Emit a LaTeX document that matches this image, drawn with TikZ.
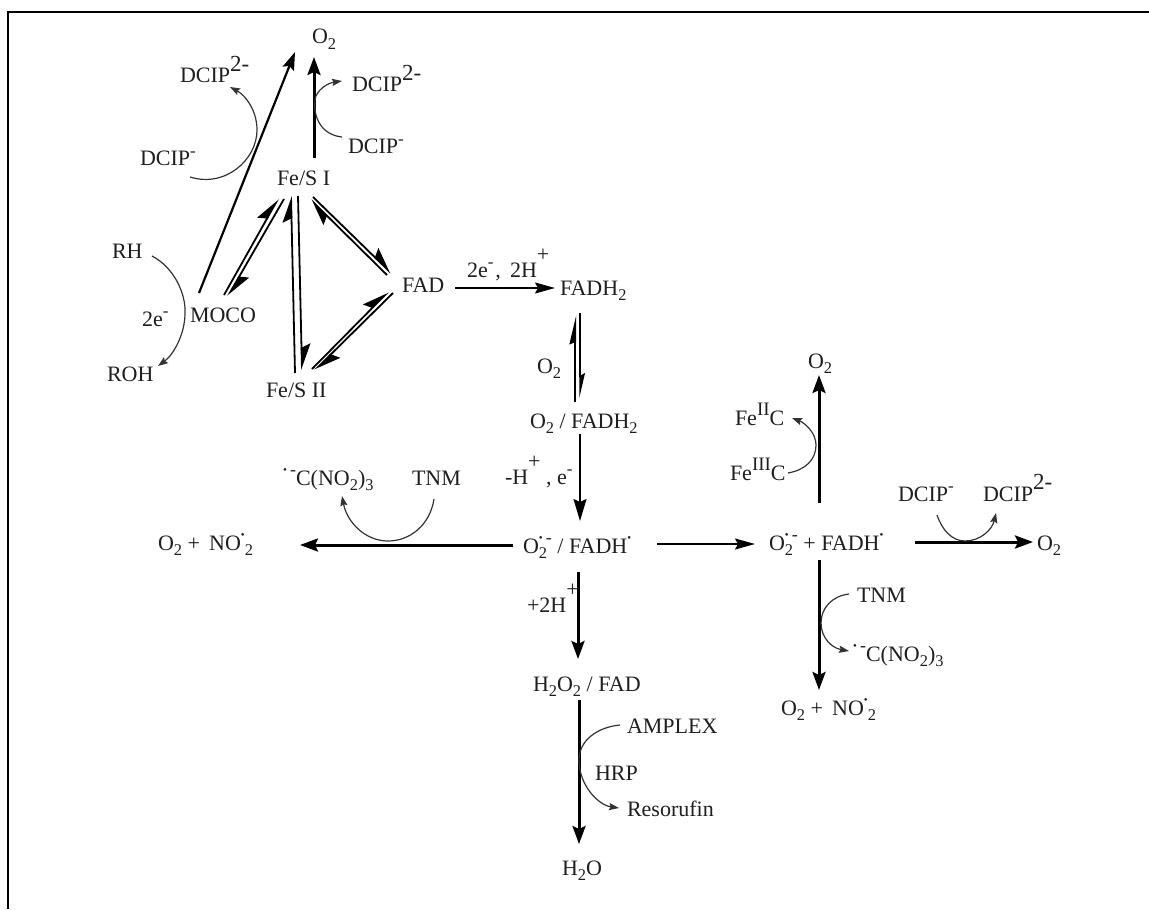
\documentclass[tikz,border=0pt]{standalone}
\usepackage{fontspec}
\setmainfont{Liberation Serif}
\usetikzlibrary{arrows.meta}
\newcommand\txtlo[1]{\raisebox{-2.6pt}{\fontsize{8.2}{9}\selectfont #1}}
\newcommand\txthi[1]{\raisebox{4.8pt}{\fontsize{8.5}{9}\selectfont #1}}
\newcommand\txtbig[1]{\raisebox{5.8pt}{\fontsize{11.5}{12}\selectfont #1}}
\newcommand\txtrom[1]{\raisebox{5pt}{\fontsize{9.5}{10}\selectfont #1}}
\newcommand\txtplus{\raisebox{8pt}{+}}
\newcommand\txtdot{\raisebox{5.8pt}{\fontsize{5.5}{6}\selectfont •}}
\newcommand\txtdotm{\raisebox{5.8pt}{\fontsize{5.5}{6}\selectfont •}\kern1.6pt\raisebox{5pt}{\fontsize{9}{9}\selectfont -}}
\newcommand\txtOsub{O\txtlo{2}}
\newcommand\txtdcipa{DCIP\txthi{-}}
\newcommand\txtdcipb{DCIP\txtbig{2-}}
\tikzset{
  lab/.style={anchor=base west,inner sep=0pt,outer sep=0pt,text=black!88,font=\fontsize{11}{13}\selectfont},
  heavy/.style={line width=1.5pt,-{Stealth[length=9pt,width=6.5pt,inset=1.5pt]}},
  medium/.style={line width=1.1pt,-{Stealth[length=9pt,width=6pt,inset=1.5pt]}},
  thin arrow/.style={line width=.7pt,-{Stealth[length=10pt,width=5.5pt,inset=1.5pt]}},
  eqarrow/.style={line width=.9pt,-{Stealth[harpoon,length=12pt,width=9pt,inset=2pt]}},
  eqthin/.style={line width=.7pt,-{Stealth[harpoon,length=11pt,width=5pt,inset=1.5pt]}},
  curved/.style={line width=.6pt,black!80,-{Stealth[length=5pt,width=3.6pt,inset=.8pt]}},
  frameline/.style={line width=1pt,black}
}
\begin{document}
\begin{tikzpicture}[x=.5pt,y=-.5pt]
\useasboundingbox (0,0) rectangle (1149,909);
\fill[white] (0,0) rectangle (1149,909);
\draw[frameline] (8,909) -- (8,12) -- (1149,12);
% labels
\node[lab] (o2a) at (312,44) {\txtOsub};
\node[lab] (dl2) at (180,83) {\txtdcipb};
\node[lab] (dr2) at (352,92) {\txtdcipb};
\node[lab] (dl1) at (140,166) {\txtdcipa};
\node[lab] (dr1) at (348,154) {\txtdcipa};
\node[lab] (feI) at (277,185) {Fe/S I};
\node[lab] (rh) at (112,258) {RH};
\node[lab] (moco) at (190,322) {MOCO};
\node[lab] (tw) at (142,326) {2e\txthi{-}};
\node[lab] (roh) at (107,381) {ROH};
\node[lab] (feII) at (266,397) {Fe/S II};
\node[lab] (fad) at (402,292) {FAD};
\node[lab] (e2h) at (467,277) {2e\txthi{-}\kern1pt, \,2H\txtplus};
\node[lab] (fadh2) at (560,295) {FADH\txtlo{2}};
\node[lab] (o2b) at (537,373) {\txtOsub};
\node[lab] (o2fadh) at (530,428) {\txtOsub{} / FADH\txtlo{2}};
\node[lab] (he) at (505,484) {-H\txtplus{} , e\txthi{-}};
\node[lab] (rad) at (523,553) {O\rlap{\txtlo{2}}\txtdotm{} / FADH\txtdot};
\node[lab] (prodl) at (158,550) {\txtOsub{} + \,NO\txtdot\txtlo{2}};
\node[lab] (cnoa) at (283,485) {\txtdotm C(NO\txtlo{2})\txtlo{3}};
\node[lab] (tnma) at (412,485) {TNM};
\node[lab] (hh) at (527,612) {+2H\txtplus};
\node[lab] (h2o2) at (533,691) {H\txtlo{2}O\txtlo{2} / FAD};
\node[lab] (amp) at (627,733) {AMPLEX};
\node[lab] (hrp) at (595,780) {HRP};
\node[lab] (res) at (627,816) {Resorufin};
\node[lab] (h2o) at (562,875) {H\txtlo{2}O};
\node[lab] (o2c) at (808,368) {\txtOsub};
\node[lab] (feii) at (735,425) {Fe\txtrom{II}C};
\node[lab] (feiii) at (730,480) {Fe\txtrom{III}C};
\node[lab] (radsum) at (769,550) {O\rlap{\txtlo{2}}\txtdotm{} + FADH\txtdot};
\node[lab] (dc3) at (898,501) {\txtdcipa};
\node[lab] (dc4) at (983,501) {\txtdcipb};
\node[lab] (o2d) at (1037,550) {\txtOsub};
\node[lab] (tnmb) at (857,602) {TNM};
\node[lab] (cnob) at (853,661) {\txtdotm C(NO\txtlo{2})\txtlo{3}};
\node[lab] (prodr) at (781,715) {\txtOsub{} + \,NO\txtdot\txtlo{2}};
% top reactions
\draw[medium] ([shift={(9,-29)}]moco.base west) -- ([shift={(-17,8)}]o2a.base west);
\draw[heavy] ([shift={(37,-27)}]feI.base west) -- ([shift={(2,13)}]o2a.base west);
\draw[curved] ([shift={(-6,-17)}]dr1.base west) .. controls (322,135) and (313,118) .. (315,100) .. controls (316,90) and (328,83) .. ([shift={(-10,-11)}]dr2.base west);
\draw[curved] ([shift={(50,11)}]dl1.base west) .. controls (225,188) and (257,160) .. (257,130) .. controls (257,110) and (245,95) .. ([shift={(50,4)}]dl2.base west);
\draw[curved] ([shift={(40,-2)}]rh.base west) .. controls (175,268) and (186,295) .. (185,313) .. controls (185,335) and (173,355) .. ([shift={(51,-15)}]roh.base west);
% equilibria
\draw[eqarrow] ([shift={(34,-27)}]moco.base west) -- ([shift={(1,14)}]feI.base west);
\draw[eqarrow] ([shift={(7,14)}]feI.base west) -- ([shift={(38,-26)}]moco.base west);
\draw[eqarrow] ([shift={(29,-24)}]feII.base west) -- ([shift={(14,11)}]feI.base west);
\draw[eqarrow] ([shift={(21,11)}]feI.base west) -- ([shift={(36,-27)}]feII.base west);
\draw[eqarrow] ([shift={(-15,-17)}]fad.base west) -- ([shift={(34,15)}]feI.base west);
\draw[eqarrow] ([shift={(36,12)}]feI.base west) -- ([shift={(-11,-19)}]fad.base west);
\draw[eqarrow] ([shift={(46,-28)}]feII.base west) -- ([shift={(-14,0)}]fad.base west);
\draw[eqarrow] ([shift={(-9,1)}]fad.base west) -- ([shift={(49,-27)}]feII.base west);
% centre column
\draw[thin arrow] ([shift={(53,-4)}]fad.base west) -- ([shift={(-5,-7)}]fadh2.base west);
\draw[line width=1.2pt,-{Stealth[harpoon,length=12pt,width=5.5pt,inset=1pt]}] ([shift={(45,-26)}]o2fadh.base west) -- ([shift={(15,20)}]fadh2.base west);
\draw[eqthin] ([shift={(20,18)}]fadh2.base west) -- ([shift={(50,-30)}]o2fadh.base west);
\draw[line width=.75pt,-{Stealth[length=11pt,width=6.5pt,inset=1.5pt]}] ([shift={(50,6)}]o2fadh.base west) -- ([shift={(57,-32)}]rad.base west);
\draw[thin arrow] ([shift={(134,-9)}]rad.base west) -- ([shift={(-14,-6)}]radsum.base west);
\draw[heavy] ([shift={(-10,-8)}]rad.base west) -- ([shift={(142,-5)}]prodl.base west);
\draw[heavy] ([shift={(55,19)}]rad.base west) -- ([shift={(45,-32)}]h2o2.base west);
\draw[heavy] ([shift={(46,9)}]h2o2.base west) -- ([shift={(17,-31)}]h2o.base west);
% right cross
\draw[heavy] ([shift={(50,-47)}]radsum.base west) -- ([shift={(11,7)}]o2c.base west);
\draw[heavy] ([shift={(146,-8)}]radsum.base west) -- ([shift={(-4,-8)}]o2d.base west);
\draw[heavy] ([shift={(50,10)}]radsum.base west) -- ([shift={(38,-25)}]prodr.base west);
% side reactions
\draw[curved] ([shift={(22,14)}]tnma.base west) .. controls (430,525) and (410,541) .. (388,541) .. controls (365,541) and (347,522) .. ([shift={(59,11)}]cnoa.base west);
\draw[curved] ([shift={(-7,-8)}]amp.base west) .. controls (598,727) and (579,740) .. (579,760) .. controls (579,785) and (598,805) .. ([shift={(-8,-8)}]res.base west);
\draw[curved] ([shift={(58,-7)}]feiii.base west) .. controls (805,470) and (816,460) .. (816,445) .. controls (816,433) and (805,423) .. ([shift={(57,-7)}]feii.base west);
\draw[curved] ([shift={(39,14)}]dc3.base west) .. controls (942,530) and (952,541) .. (965,541) .. controls (980,541) and (992,530) .. ([shift={(13,12)}]dc4.base west);
\draw[curved] ([shift={(-8,-8)}]tnmb.base west) .. controls (832,596) and (821,608) .. (821,623) .. controls (821,638) and (832,648) .. ([shift={(-4,-10)}]cnob.base west);
\end{tikzpicture}
\end{document}
